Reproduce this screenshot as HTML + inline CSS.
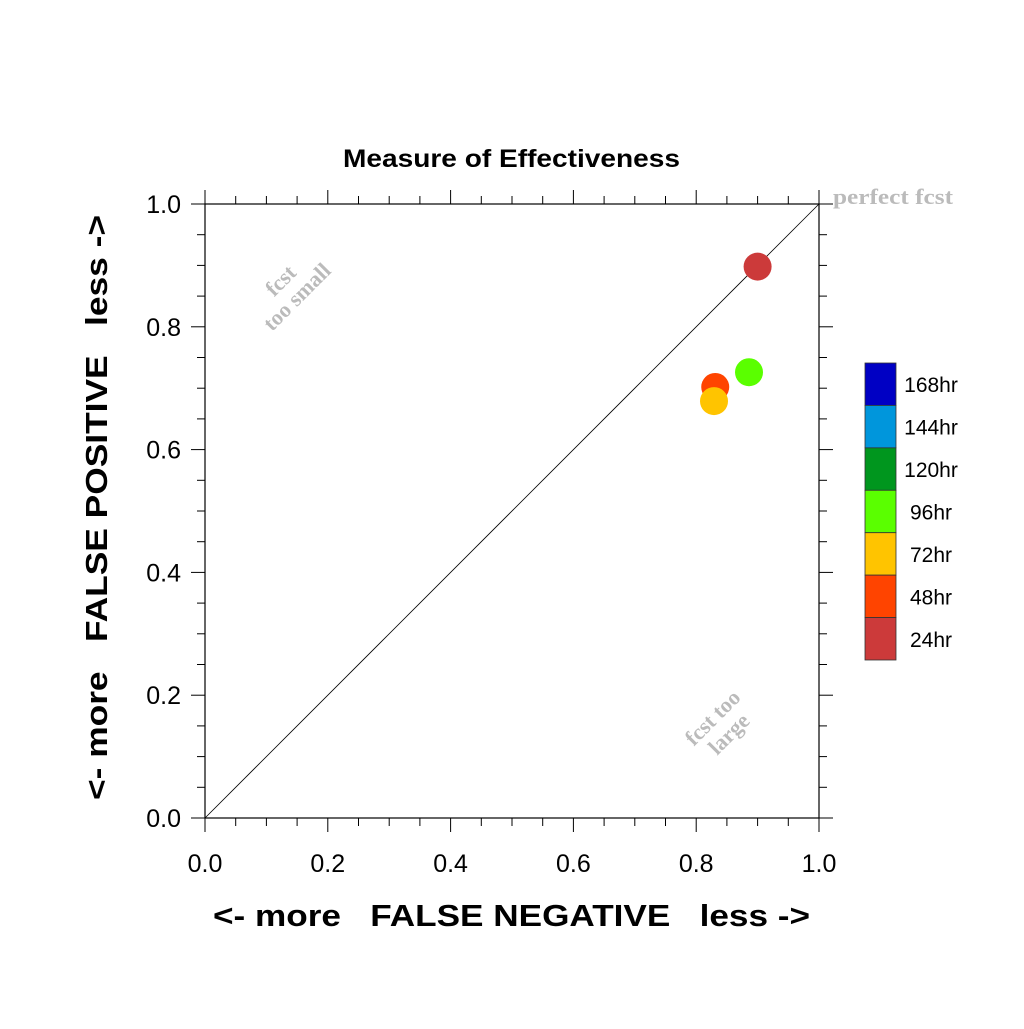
<!DOCTYPE html>
<html><head><meta charset="utf-8"><style>
body{margin:0;background:#fff}
text{font-family:"Liberation Sans",sans-serif}
</style></head><body>
<svg id="chart" width="1024" height="1024" viewBox="0 0 1024 1024" xmlns="http://www.w3.org/2000/svg">
<text x="343" y="167" textLength="337" lengthAdjust="spacingAndGlyphs" font-size="25" font-weight="bold">Measure of Effectiveness</text>
<g id="axes"></g>
<line x1="205" y1="818" x2="819" y2="204" stroke="#000" stroke-width="0.8"/>
<text x="833" y="204" textLength="120" lengthAdjust="spacingAndGlyphs" font-weight="bold" font-size="22" fill="#bbb" style="font-family:'Liberation Serif',serif">perfect fcst</text>
<g transform="translate(290,290) rotate(-45)" fill="#bbb" font-weight="bold" font-size="22">
<text x="0" y="-6" text-anchor="middle" style="font-family:'Liberation Serif',serif">fcst</text>
<text x="0" y="17" text-anchor="middle" style="font-family:'Liberation Serif',serif">too small</text></g>
<g transform="translate(722,727) rotate(-45)" fill="#bbb" font-weight="bold" font-size="22">
<text x="0" y="-6" text-anchor="middle" style="font-family:'Liberation Serif',serif">fcst too</text>
<text x="0" y="17" text-anchor="middle" style="font-family:'Liberation Serif',serif">large</text></g>
<g id="points"></g>
<g id="legend"></g>
<text x="213" y="926" textLength="597" lengthAdjust="spacingAndGlyphs" font-size="31" font-weight="bold" style="white-space:pre" xml:space="preserve">&lt;- more   FALSE NEGATIVE   less -&gt;</text>
<text transform="translate(107,800) rotate(-90)" textLength="585" lengthAdjust="spacingAndGlyphs" font-size="31" font-weight="bold" style="white-space:pre" xml:space="preserve">&lt;- more   FALSE POSITIVE   less -&gt;</text>
</svg>
<script>
const xVals=[0.900,0.886,0.831,0.829];
const yVals=[0.898,0.726,0.702,0.679];
const pointColors=["#cc3a3a","#5aff00","#ff4400","#ffc400"];
const pointNames=["24hr","96hr","48hr","72hr"];
const tickLabels=["0.0","0.2","0.4","0.6","0.8","1.0"];
const legendLabels=["168hr","144hr","120hr","96hr","72hr","48hr","24hr"];
const legendColors=["#0000c4","#0096dc","#00961e","#5aff00","#ffc400","#ff4400","#cc3a3a"];
const NS="http://www.w3.org/2000/svg";
const X0=205,X1=819,Y0=818,Y1=204;
const sx=v=>X0+(X1-X0)*v, sy=v=>Y0-(Y0-Y1)*v;
function mk(t,a,p){const e=document.createElementNS(NS,t);for(const k in a)e.setAttribute(k,a[k]);p.appendChild(e);return e;}
const ax=document.getElementById('axes');
const frame=mk('rect',{x:X0,y:Y1,width:X1-X0,height:Y0-Y1,fill:'none',stroke:'#000','stroke-width':1.2},ax);


for(let i=0;i<=20;i++){const v=i/20,maj=i%4===0,L=maj?14:8;
 const px=sx(v),py=sy(v);
 mk('line',{x1:px,y1:Y0,x2:px,y2:Y0+L,stroke:'#000'},ax);
 mk('line',{x1:px,y1:Y1,x2:px,y2:Y1-L,stroke:'#000'},ax);
 mk('line',{x1:X0,y1:py,x2:X0-L,y2:py,stroke:'#000'},ax);
 mk('line',{x1:X1,y1:py,x2:X1+L,y2:py,stroke:'#000'},ax);}
tickLabels.forEach((t,i)=>{const v=parseFloat(t);
 const a=mk('text',{x:sx(v),y:872,'text-anchor':'middle','font-size':25},ax);a.textContent=t;
 
 
 const b=mk('text',{x:181,y:sy(v)+9,'text-anchor':'end','font-size':25},ax);b.textContent=t;
 
 });
const pg=document.getElementById('points');
xVals.forEach((x,i)=>{const c=mk('circle',{cx:sx(x),cy:sy(yVals[i]),r:14,fill:pointColors[i]},pg);
 
 });
const lg=document.getElementById('legend');
const bh=(660-363)/legendLabels.length;
legendLabels.forEach((t,i)=>{const y=363+i*bh;
 const r=mk('rect',{x:865,y:y,width:31,height:bh,fill:legendColors[i],stroke:'#333','stroke-width':0.8},lg);
 
 
 const tx=mk('text',{x:931,y:y+bh/2+8,'text-anchor':'middle','font-size':21},lg);tx.textContent=t;
 
 });
</script>
</body></html>
